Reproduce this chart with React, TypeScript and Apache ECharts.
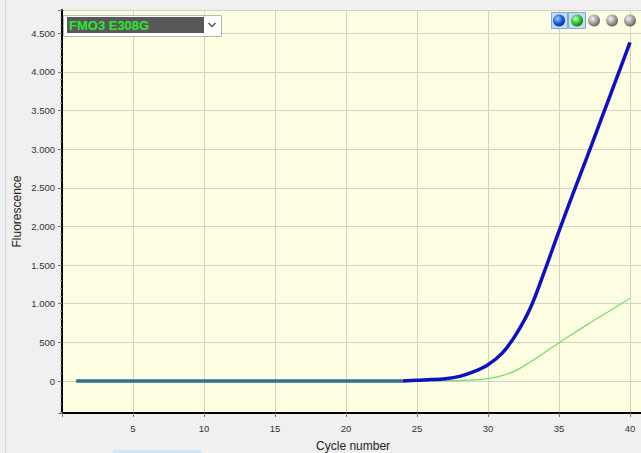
import React, { useEffect, useRef } from "react";
import * as echarts from "echarts";

const cycles = [1, 2, 3, 4, 5, 6, 7, 8, 9, 10, 11, 12, 13, 14, 15, 16, 17, 18, 19, 20, 21, 22, 23, 24, 25, 26, 27, 28, 29, 30, 31, 32, 33, 34, 35, 36, 37, 38, 39, 40];
const blueValues = [0, 0, 0, 0, 0, 0, 0, 0, 0, 0, 0, 0, 0, 0, 0, 0, 0, 0, 0, 0, 0, 0, 0, 0, 10, 18, 30, 60, 120, 210, 360, 610, 950, 1430, 1940, 2430, 2910, 3400, 3890, 4380];
const greenValues = [0, 0, 0, 0, 0, 0, 0, 0, 0, 0, 0, 0, 0, 0, 0, 0, 0, 0, 0, 0, 0, 0, 0, 0, 0, 0, 4, 8, 15, 32, 70, 140, 250, 370, 495, 615, 730, 845, 955, 1070];
const baselineEndCycle = 24;
const sampleName = "FMO3 E308G";
const xName = "Cycle number";
const yName = "Fluorescence";

const FONT = "Liberation Sans";

function fmt(v: number): string {
  return String(Math.round(v)).replace(/\B(?=(\d{3})+(?!\d))/g, ".");
}

function dot(cx: number, cy: number, stops: string[]) {
  return {
    type: "circle",
    shape: { cx, cy, r: 6 },
    style: {
      fill: {
        type: "radial", x: 0.38, y: 0.35, r: 0.7,
        colorStops: [
          { offset: 0, color: stops[0] },
          { offset: 0.55, color: stops[1] },
          { offset: 1, color: stops[2] },
        ],
      },
    },
    z: 100,
  };
}

export default function App() {
  const ref = useRef<HTMLDivElement>(null);
  useEffect(() => {
    if (!ref.current) return;
    const chart = echarts.init(ref.current, null, { renderer: "svg" });
    const pairs = cycles.map((c, i) => [c, blueValues[i]]);
    const basePart = pairs.filter((p) => p[0] <= baselineEndCycle);
    const risePart = pairs.filter((p) => p[0] >= baselineEndCycle);
    const option: any = {
      animation: false,
      backgroundColor: "#f0f0f0",
      textStyle: { fontFamily: FONT },
      grid: {
        left: 62, top: 10, width: 41 * 14.2, height: 403,
        backgroundColor: "#fefee2", show: true, borderWidth: 0,
        containLabel: false, outerBoundsMode: "none",
      },
      xAxis: {
        type: "value", min: 0, max: 41, interval: 5,
        name: xName, nameLocation: "middle", nameGap: 27,
        nameTextStyle: { fontSize: 12, color: "#222", fontFamily: FONT },
        axisLine: { show: true, onZero: false, lineStyle: { color: "#000", width: 2 } },
        axisTick: { show: true, length: 4, lineStyle: { color: "#777" } },
        axisLabel: {
          margin: 10, fontSize: 9.5, color: "#333", fontFamily: FONT,
          formatter: (v: number) => (v > 0 && v % 5 === 0 ? String(v) : ""),
        },
        splitLine: { show: true, lineStyle: { color: "#d2d2c6", width: 1 } },
      },
      yAxis: {
        type: "value", min: -414, max: 4800, splitNumber: 10,
        name: yName, nameLocation: "middle", nameGap: 39, nameRotate: 90,
        nameMoveOverlap: false,
        nameTextStyle: { fontSize: 12, color: "#222", fontFamily: FONT },
        axisLine: { show: true, lineStyle: { color: "#000", width: 2 } },
        axisTick: { show: true, length: 4, lineStyle: { color: "#777" } },
        minorTick: { show: true, splitNumber: 5, length: 2, lineStyle: { color: "#999" } },
        axisLabel: {
          margin: 7, fontSize: 9.5, color: "#333", fontFamily: FONT,
          formatter: (v: number) => (Math.abs(v % 500) < 1e-6 ? fmt(v) : ""),
        },
        splitLine: { show: true, lineStyle: { color: "#d2d2c6", width: 1 } },
      },
      series: [
        {
          type: "line", name: sampleName + " rise", showSymbol: false, z: 3, smooth: 0.35,
          data: risePart,
          lineStyle: { width: 3.5, color: "#0f0fc6" },
          itemStyle: { color: "#0f0fc6" },
        },
        {
          type: "line", name: sampleName + " base", showSymbol: false, z: 3,
          data: basePart,
          lineStyle: { width: 3.5, color: "#2f6f95" },
          itemStyle: { color: "#2f6f95" },
        },
        {
          type: "line", name: sampleName + " 2", showSymbol: false, z: 2, smooth: 0.35,
          data: cycles.map((c, i) => [c, greenValues[i]]),
          lineStyle: { width: 1.3, color: "#6fe06f" },
          itemStyle: { color: "#6fe06f" },
        },
      ],
      graphic: [
        { type: "line", shape: { x1: 5.5, y1: 0, x2: 5.5, y2: 453 }, style: { stroke: "#d8d8d8", lineWidth: 1 } },
        { type: "rect", shape: { x: 113, y: 450, width: 89, height: 3 }, style: { fill: "#cfe8fb" } },
        { type: "rect", shape: { x: 63.5, y: 15.5, width: 158, height: 21 }, style: { fill: "#ffffff", stroke: "#b8b8b8", lineWidth: 1 }, z: 100 },
        { type: "rect", shape: { x: 67, y: 17, width: 137, height: 16 }, style: { fill: "#585858" }, z: 101 },
        { type: "text", x: 69, y: 25.5, style: { text: sampleName, fill: "#2ee82e", font: `bold 13px "${FONT}"`, verticalAlign: "middle" }, z: 102 },
        { type: "polyline", shape: { points: [[208.5, 23], [212, 26.5], [215.5, 23]] }, style: { stroke: "#555", lineWidth: 1.5, fill: null }, z: 102 },
        { type: "rect", shape: { x: 551.5, y: 12.5, width: 16, height: 16 }, style: { fill: "#c4dcf2", stroke: "#7fa9d6", lineWidth: 1 }, z: 99 },
        { type: "rect", shape: { x: 568.5, y: 12.5, width: 17, height: 16 }, style: { fill: "#c4dcf2", stroke: "#7fa9d6", lineWidth: 1 }, z: 99 },
        dot(559, 20.5, ["#a8ccff", "#1f5fe0", "#0a2a90"]),
        dot(577, 20.5, ["#caffca", "#2fc02f", "#0b7a0b"]),
        dot(594, 20.5, ["#f2f2f2", "#a0a0a0", "#5a5a5a"]),
        dot(612, 20.5, ["#f2f2f2", "#a0a0a0", "#5a5a5a"]),
        dot(630, 20.5, ["#f2f2f2", "#a0a0a0", "#5a5a5a"]),
      ],
    };
    chart.setOption(option);
    return () => chart.dispose();
  }, []);
  return <div ref={ref} style={{ position: "absolute", left: 0, top: 0, width: 641, height: 453 }} />;
}
